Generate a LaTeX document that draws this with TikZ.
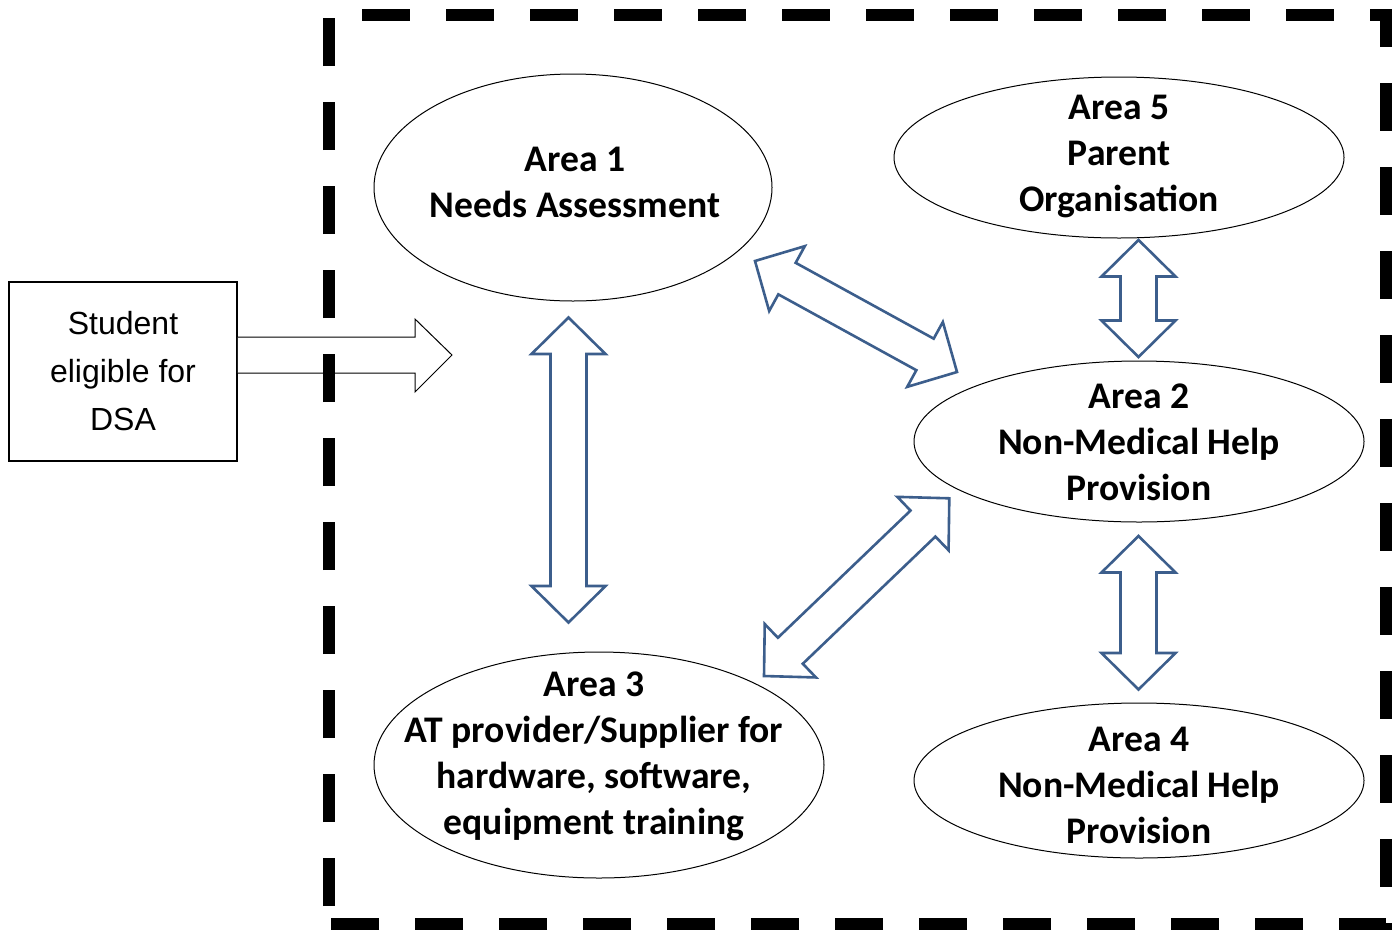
\documentclass[tikz,border=0pt]{standalone}
\usepackage{fontspec}
\setmainfont{Carlito}
\newfontfamily\arialf{Liberation Sans}
\usetikzlibrary{shapes.geometric,calc}
\definecolor{arrowblue}{RGB}{60,94,140}
\tikzset{
  areabox/.style={draw=black, line width=1pt, ellipse, inner sep=0pt},
  areatext/.style={font=\fontsize{37.6}{46}\selectfont\bfseries, align=center, inner sep=0pt},
  barrow/.style={draw=arrowblue, line width=2.6pt, fill=white, line join=miter},
  frameline/.style={draw=black, line width=12pt, dash pattern=on 48pt off 36pt, line join=miter},
  stubox/.style={draw=black, line width=1.5pt, minimum width=228pt, minimum height=179pt, inner sep=0pt,
    font=\arialf\fontsize{32}{48}\selectfont, align=center},
  inarrow/.style={draw=black, line width=1pt, fill=white},
}
\newcommand{\dblblock}[2]{%
  \coordinate (#1h) at ($(#1)!36.5pt!(#2)$);
  \coordinate (#2h) at ($(#2)!36.5pt!(#1)$);
  \draw[barrow] (#1) -- ($(#1h)!37pt!90:(#2)$) -- ($(#1h)!18pt!90:(#2)$)
    -- ($(#2h)!18pt!-90:(#1)$) -- ($(#2h)!37pt!-90:(#1)$) -- (#2)
    -- ($(#2h)!37pt!90:(#1)$) -- ($(#2h)!18pt!90:(#1)$)
    -- ($(#1h)!18pt!-90:(#2)$) -- ($(#1h)!37pt!-90:(#2)$) -- cycle;}
\begin{document}
\begin{tikzpicture}[x=1pt,y=-1pt]
\useasboundingbox[fill=white] (0,0) rectangle (1396,930);

% student box and entry arrow
\node[stubox] (stu) at (123,371.5) {Student\\eligible for\\DSA};
\coordinate (ina) at (stu.east |- 0,337);
\coordinate (inb) at (stu.east |- 0,373);
\draw[inarrow] (ina) -- (415,337) -- (415,319) -- (452,355) -- (415,392) -- (415,373) -- (inb);

% ellipses
\node[areabox, minimum width=398pt, minimum height=227pt] (a1) at (573,187.5) {};
\node[areabox, minimum width=450pt, minimum height=161pt] (a5) at (1119,157.5) {};
\node[areabox, minimum width=450pt, minimum height=161pt] (a2) at (1139,441.5) {};
\node[areabox, minimum width=450pt, minimum height=155pt] (a4) at (1139,780.5) {};
\node[areabox, minimum width=450pt, minimum height=226pt] (a3) at (599,765) {};

\node[areatext] (t1) at (575,182) {Area 1\\Needs Assessment};
\node[areatext] (t5) at (1119,156) {Area 5\\Parent\\Organisation};
\node[areatext] (t2) at (1139,442.5) {Area 2\\Non-Medical Help\\Provision};
\node[areatext] (t4) at (1139,785) {Area 4\\Non-Medical Help\\Provision};
\node[areatext] (t3) at (594,756) {Area 3\\AT provider/Supplier for\\hardware, software,\\equipment training};

% double block arrows
\coordinate (p13a) at (568.5,317.5);
\coordinate (p13b) at (568.5,622.5);
\coordinate (p52a) at (1138.5,240);
\coordinate (p52b) at (1138.5,357);
\coordinate (p24a) at (1138.5,536);
\coordinate (p24b) at (1138.5,689.5);
\coordinate (p12a) at (755,261);
\coordinate (p12b) at (957,372);
\coordinate (p23a) at (949.3,498.3);
\coordinate (p23b) at (764,676);
\dblblock{p13a}{p13b}
\dblblock{p52a}{p52b}
\dblblock{p24a}{p24b}
\dblblock{p12a}{p12b}
\dblblock{p23a}{p23b}

% dashed frame
\coordinate (f0) at (329,906);
\coordinate (f1) at (329,15);
\coordinate (f2) at (1386,15);
\coordinate (f3) at (1386,924);
\coordinate (f4) at (329,924);
\draw[frameline] (f0) -- (f1) -- (f2) -- (f3) -- (f4);
\end{tikzpicture}
\end{document}
